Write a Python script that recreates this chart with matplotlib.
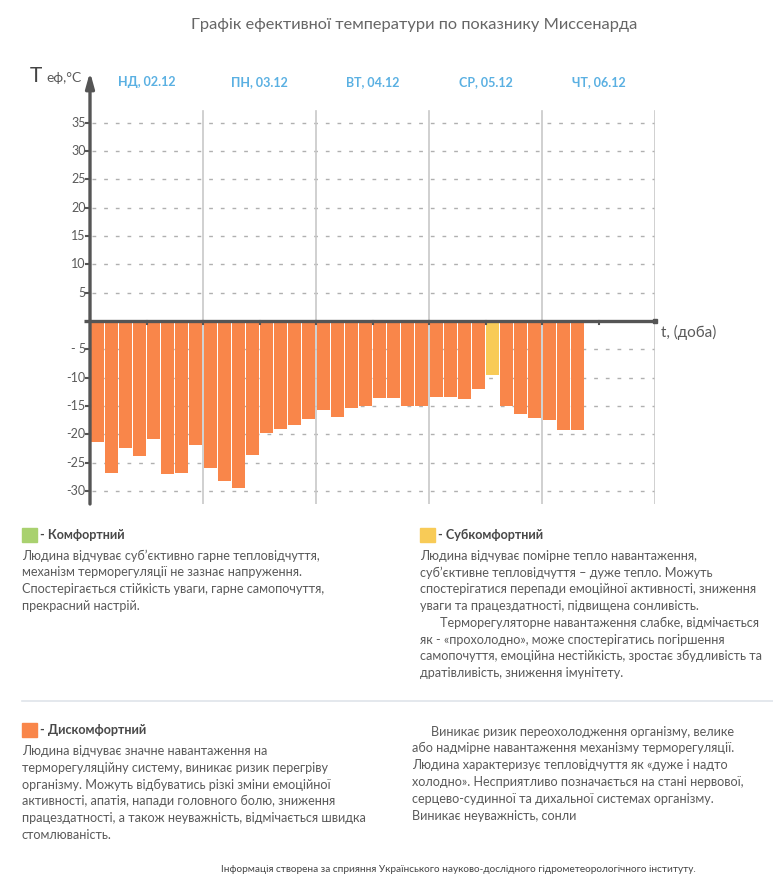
import matplotlib
matplotlib.use('Agg')
import matplotlib.pyplot as plt
from matplotlib.patches import Rectangle
from matplotlib.lines import Line2D

W, H = 773, 882
FONT = ['Lato', 'DejaVu Sans']
plt.rcParams['font.family'] = FONT

# data (3-hour steps)
day_labels = ['НД, 02.12', 'ПН, 03.12', 'ВТ, 04.12', 'СР, 05.12', 'ЧТ, 06.12']
teff = [-21.4, -26.8, -22.4, -23.8, -20.8, -27.0, -26.8, -21.9,
        -25.9, -28.2, -29.4, -23.6, -19.8, -19.1, -18.4, -17.3,
        -15.7, -16.9, -15.3, -15.0, -13.6, -13.6, -15.0, -15.0,
        -13.4, -13.4, -13.7, -12.0, -9.5, -15.0, -16.4, -17.1,
        -17.5, -19.2, -19.2]
zone = ['dis'] * 28 + ['sub'] + ['dis'] * 6
y_ticks = [35, 30, 25, 20, 15, 10, 5, -5, -10, -15, -20, -25, -30]
y_tick_labels = ['35', '30', '25', '20', '15', '10', '5', '- 5', '-10', '-15', '-20', '-25', '-30']
steps_per_day = 8

colors = {'com': '#a9d16f', 'sub': '#f8cb57', 'dis': '#f9864a'}
TXT = '#5a5a5a'
AX = '#555555'


def fx(px):
    return px / W


def fy(py):
    return 1 - py / H


fig = plt.figure(figsize=(W / 100, H / 100), dpi=100)

# plot area: x 90..655 px, y 72..504 px, zero at y=321, 5.667 px per degree
y_top = (321 - 72) / 5.667
y_bot = -(504 - 321) / 5.667
ax = fig.add_axes([fx(90), fy(504), fx(655) - fx(90), (504 - 72) / H])
n_slots = steps_per_day * len(day_labels)
ax.set_xlim(0, n_slots)
ax.set_ylim(y_bot, y_top)
ax.axis('off')

# dashed grid
for v in y_ticks:
    ax.plot([0.12, n_slots], [v, v], color='#b0b0b0', lw=1, ls=(0, (2.7, 5.7)), zorder=1)

# day separators
for d in range(1, len(day_labels) + 1):
    ax.plot([d * steps_per_day] * 2, [y_bot, (321 - 111) / 5.667], color='#c8c8c8', lw=1.2, zorder=1)

# bars
xs = [i + 0.5 for i in range(len(teff))]
ax.bar(xs, teff, width=0.92, color=[colors[z] for z in zone], zorder=2)

# x axis
ax.plot([-0.42, n_slots], [0, 0], color=AX, lw=2.4, zorder=3, clip_on=False,
        solid_capstyle='butt')
ax.plot([n_slots], [0], marker='s', ms=3, color=AX, zorder=3, clip_on=False)
for k in range(1, 2 * len(day_labels)):
    ax.plot([k * 4] * 2, [0, -0.45], color=AX, lw=1.5, zorder=3, clip_on=False)

# y axis with arrow
ax.annotate('', xy=(0, y_top), xytext=(0, y_bot), xycoords='data',
            arrowprops=dict(arrowstyle='-|>,head_length=0.9,head_width=0.25',
                            color=AX, lw=2.4, shrinkA=0, shrinkB=0),
            annotation_clip=False, zorder=4)
for v, lab in zip(y_ticks, y_tick_labels):
    ax.plot([-0.3, 0], [v, v], color=AX, lw=1.5, clip_on=False, zorder=4)
    ax.text(-0.3, v, lab, ha='right', va='center', fontsize=9, color=TXT)

# day labels
for d, lab in enumerate(day_labels):
    ax.text(d * steps_per_day + 4, (321 - 82) / 5.667, lab, ha='center', va='center',
            fontsize=9, fontweight='bold', color='#5ab0e2')

fig.text(fx(661), fy(332), 't, (доба)', fontsize=11, color=TXT, ha='left', va='center')
fig.text(fx(30), fy(76), 'T', fontsize=15, color='#444444', ha='left', va='center')
fig.text(fx(46), fy(78), 'еф,°C', fontsize=10, color=TXT, ha='left', va='center')

fig.text(fx(414), fy(25), 'Графік ефективної температури по показнику Миссенарда',
         fontsize=11.8, color='#666666', ha='center', va='center')

# legend blocks
BODY = 9.1
LH = 16.8


def block(x, y_head, key, head, lines, y_first, indents=()):
    fig.patches.append(Rectangle((fx(x), fy(y_head + 7)), 14.5 / W, 14.5 / H,
                                 transform=fig.transFigure, color=colors[key]))
    fig.text(fx(x + 18), fy(y_head), '- ' + head, fontsize=BODY, fontweight='bold',
             color='#484848', ha='left', va='center')
    for i, line in enumerate(lines):
        dx = 20 if i in indents else 0
        fig.text(fx(x + dx), fy(y_first + i * LH), line, fontsize=BODY, color=TXT,
                 ha='left', va='center')


block(22, 535, 'com', 'Комфортний', [
    'Людина відчуває суб’єктивно гарне тепловідчуття,',
    'механізм терморегуляції не зазнає напруження.',
    'Спостерігається стійкість уваги, гарне самопочуття,',
    'прекрасний настрій.'], 555.5)

block(420, 535, 'sub', 'Субкомфортний', [
    'Людина відчуває помірне тепло навантаження,',
    'суб’єктивне тепловідчуття – дуже тепло. Можуть',
    'спостерігатися перепади емоційної активності, зниження',
    'уваги та працездатності, підвищена сонливість.',
    'Терморегуляторне навантаження слабке, відмічається',
    'як - «прохолодно», може спостерігатись погіршення',
    'самопочуття, емоційна нестійкість, зростає збудливість та',
    'дратівливість, зниження імунітету.'], 555.5, indents=(4,))

fig.lines.append(Line2D([fx(22), fx(773)], [fy(701), fy(701)], transform=fig.transFigure,
                        color='#dfe4ea', lw=1.2))

block(22, 730, 'dis', 'Дискомфортний', [
    'Людина відчуває значне навантаження на',
    'терморегуляційну систему, виникає ризик перегріву',
    'організму. Можуть відбуватись різкі зміни емоційної',
    'активності, апатія, напади головного болю, зниження',
    'працездатності, а також неуважність, відмічається швидка',
    'стомлюваність.'], 751)

right_lines = [
    'Виникає ризик переохолодження організму, велике',
    'або надмірне навантаження механізму терморегуляції.',
    'Людина характеризує тепловідчуття як «дуже і надто',
    'холодно». Несприятливо позначається на стані нервової,',
    'серцево-судинної та дихальної системах організму.',
    'Виникає неуважність, сонли']
for i, line in enumerate(right_lines):
    dx = 19 if i == 0 else 0
    fig.text(fx(412 + dx), fy(731.5 + i * LH), line, fontsize=BODY, color=TXT,
             ha='left', va='center')

fig.text(fx(458), fy(869),
         'Інформація створена за сприяння Українського науково-дослідного гідрометеорологічного інституту.',
         fontsize=7.2, color='#444444', ha='center', va='center')

fig.savefig('out.png', dpi=100)
